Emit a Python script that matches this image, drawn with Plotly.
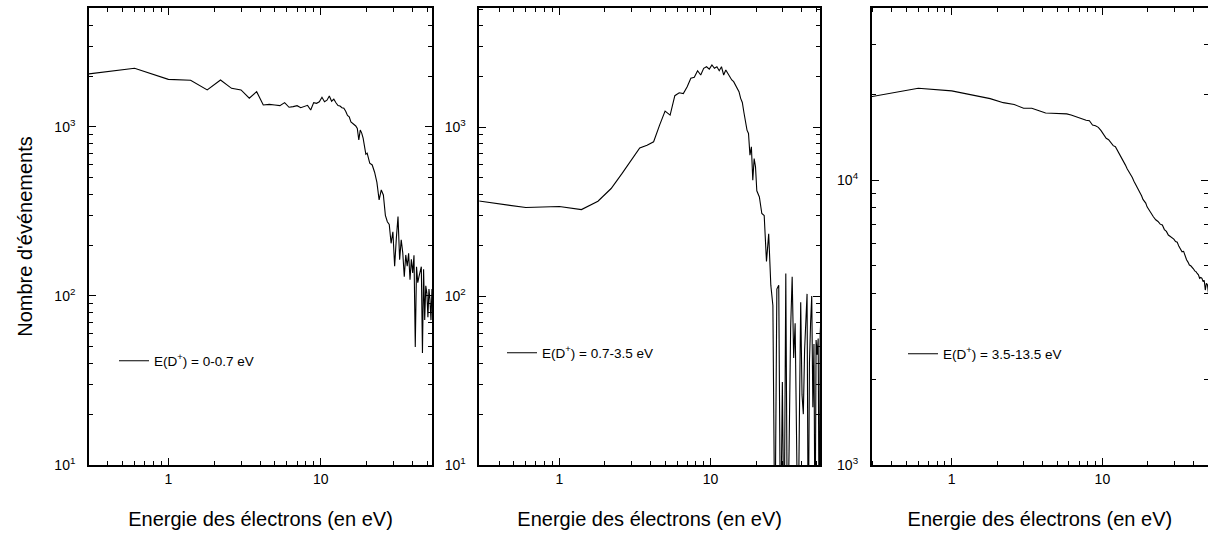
import plotly.graph_objects as go

# Electron energy (eV) - shared grid
energie = [
    0.2, 0.6, 1.0, 1.4, 1.8, 2.2, 2.6, 3.0, 3.4, 3.8,
    4.2, 4.6, 5.0, 5.4, 5.8, 6.2, 6.6, 7.0, 7.4, 7.8,
    8.2, 8.6, 9.0, 9.4, 9.8, 10.2, 10.6, 11.0, 11.4, 11.8,
    12.2, 12.6, 13.0, 13.4, 13.8, 14.2, 14.6, 15.0, 15.4, 15.8,
    16.2, 16.6, 17.0, 17.4, 17.8, 18.2, 18.6, 19.0, 19.4, 19.8,
    20.2,
    21.0, 21.8, 22.6, 23.4, 24.2, 25.0, 25.8, 26.6, 27.4, 28.2,
    29.0, 29.8, 30.6, 31.4, 32.2, 33.0, 33.8, 34.6, 35.4, 36.2,
    37.0, 37.8, 38.6, 39.4, 40.2, 41.0, 41.8, 42.6, 43.4, 44.2,
    45.0, 45.8, 46.6, 47.4, 48.2, 49.0, 49.8, 50.6, 51.4, 52.2,
    53.0, 53.8, 54.6,
]

# Counts, E(D+) = 0-0.7 eV
evts_1 = [
    1970, 2225, 1914, 1890, 1656, 1897, 1693, 1656, 1479, 1618,
    1349, 1360, 1350, 1337, 1393, 1308, 1320, 1337, 1300, 1320,
    1343, 1260, 1393, 1380, 1410, 1499, 1410, 1440, 1525, 1420,
    1460, 1390, 1340, 1330, 1300, 1290, 1240, 1170, 1150, 1070,
    1050, 1040, 1014, 980, 838, 960, 920, 860, 760, 690,
    700,
    610, 596, 540, 470, 370, 424, 396, 300, 275, 265,
    205, 240, 150, 220, 295, 164, 215, 180, 130, 175,
    150, 179, 125, 165, 137, 174, 50, 149, 120, 130,
    140, 149, 46, 144, 72, 115, 104, 75, 110, 95,
    72, 110, 90,
]

# Counts, E(D+) = 0.7-3.5 eV
evts_2 = [
    383, 334, 339, 325, 364, 433, 532, 637, 753, 782,
    819, 1028, 1244, 1178, 1534, 1597, 1580, 1733, 1944, 1970,
    2157, 2033, 2228, 2276, 2205, 2333, 2228, 2276, 2157, 2276,
    2033, 2180, 2080, 1960, 1900, 1858, 1760, 1680, 1620, 1480,
    1400, 1220, 1060, 960, 917, 682, 764, 485, 652, 582,
    420,
    386, 308, 300, 160, 234, 116, 88, 3, 110, 116,
    3, 31, 3, 136, 3, 12, 65, 130, 43, 69,
    14, 3, 18, 92, 26, 20, 48, 69, 103, 3,
    40, 70, 100, 22, 52, 3, 55, 45, 56, 3,
    60, 80, 50,
]

# Counts, E(D+) = 3.5-13.5 eV
evts_3 = [
    18900, 20990, 20550, 19800, 19300, 18680, 18400, 17860, 17860, 17500,
    17190, 17150, 17120, 17100, 17060, 16900, 16700, 16480, 16350, 16200,
    16140, 15590, 15500, 15300, 14900, 14400, 14000, 13850, 13500, 13200,
    13090, 12700, 12300, 12010, 11700, 11300, 10950, 10700, 10500, 10200,
    9900, 9650, 9490, 9300, 9000, 8800, 8550, 8420, 8300, 8050,
    7900,
    7650, 7430, 7250, 7150, 7000, 6950, 6700, 6600, 6410, 6350,
    6250, 6200, 6080, 6050, 5850, 5750, 5600, 5620, 5400, 5250,
    5150, 5030, 5000, 4950, 4880, 4800, 4770, 4700, 4650, 4520,
    4550, 4520, 4400, 4450, 4110, 4340, 4290, 4000, 4200, 4100,
    4050, 4000, 3950,
]

series_names = [
    "E(D<sup>+</sup>) = 0-0.7 eV",
    "E(D<sup>+</sup>) = 0.7-3.5 eV",
    "E(D<sup>+</sup>) = 3.5-13.5 eV",
]

x_tickvals = [1, 10]
x_ticktext = ["1", "10"]
x_minor = [0.3, 0.4, 0.5, 0.6, 0.7, 0.8, 0.9, 2, 3, 4, 5, 6, 7, 8, 9, 20, 30, 40, 50]

y_tickvals_a = [10, 100, 1000]
y_ticktext_a = ["10<sup>1</sup>", "10<sup>2</sup>", "10<sup>3</sup>"]
y_minor_a = [20, 30, 40, 50, 60, 70, 80, 90, 200, 300, 400, 500, 600, 700, 800, 900,
             2000, 3000, 4000, 5000]
y_tickvals_b = [1000, 10000]
y_ticktext_b = ["10<sup>3</sup>", "10<sup>4</sup>"]
y_minor_b = [2000, 3000, 4000, 5000, 6000, 7000, 8000, 9000, 20000, 30000, 40000]

for s in (evts_1, evts_2, evts_3):
    assert len(s) == len(energie)

W, H = 1208, 534
ML, MR, MT, MB = 89, 0, 8, 69
PW, PH = W - ML - MR, H - MT - MB

def px_x(p):
    return (p - ML) / PW

def px_y(p):
    return (H - MB - p) / PH

FONT = "Arial, Liberation Sans, Helvetica, sans-serif"

panels = [
    dict(y=evts_1, dom=[89, 432], xr=[-0.521, 1.731], yr=[1, 3.704],
         yt=(y_tickvals_a, y_ticktext_a, y_minor_a), leg=(114, 361)),
    dict(y=evts_2, dom=[479.3, 820], xr=[-0.529, 1.723], yr=[1, 3.705],
         yt=(y_tickvals_a, y_ticktext_a, y_minor_a), leg=(502, 353)),
    dict(y=evts_3, dom=[871.7, 1208], xr=[-0.531, 1.701], yr=[3, 4.6035],
         yt=(y_tickvals_b, y_ticktext_b, y_minor_b), leg=(903, 354)),
]

fig = go.Figure()
layout = dict(
    width=W, height=H,
    margin=dict(l=ML, r=MR, t=MT, b=MB),
    paper_bgcolor="white", plot_bgcolor="white",
    font=dict(family=FONT, color="black", size=14),
    showlegend=True,
)

for i, p in enumerate(panels):
    k = "" if i == 0 else str(i + 1)
    legname = "legend" if i == 0 else f"legend{i + 1}"
    fig.add_trace(go.Scatter(
        x=energie, y=p["y"], mode="lines",
        line=dict(color="black", width=1.1),
        name=series_names[i],
        xaxis="x" + k, yaxis="y" + k,
        legend=legname,
    ))
    common = dict(
        type="log", showgrid=False, zeroline=False,
        showline=True, linecolor="black", linewidth=1.6,
        mirror="allticks", ticks="inside", ticklen=7, tickwidth=1.2,
        tickcolor="black", automargin=False,
        tickfont=dict(family=FONT, size=14, color="black"),
    )
    xa = dict(common)
    xa.update(
        domain=[px_x(p["dom"][0]), px_x(p["dom"][1])],
        range=p["xr"], anchor="y" + k,
        tickmode="array", tickvals=x_tickvals, ticktext=x_ticktext,
        minor=dict(tickmode="array", tickvals=x_minor, ticks="inside",
                   ticklen=4, tickwidth=1, tickcolor="black"),
        title=dict(text="Energie des électrons (en eV)",
                   font=dict(family=FONT, size=20, color="black"), standoff=26),
    )
    ya = dict(common)
    tv, tt, tm = p["yt"]
    ya.update(
        domain=[0, 1], range=p["yr"], anchor="x" + k,
        tickmode="array", tickvals=tv, ticktext=tt,
        ticklabelstandoff=9,
        minor=dict(tickmode="array", tickvals=tm, ticks="inside",
                   ticklen=4, tickwidth=1, tickcolor="black"),
    )
    if i == 0:
        ya["title"] = dict(text="Nombre d'événements",
                           font=dict(family=FONT, size=20, color="black"), standoff=16)
    layout["xaxis" + k] = xa
    layout["yaxis" + k] = ya
    lx, ly = p["leg"]
    layout[legname] = dict(
        x=px_x(lx), y=px_y(ly), xanchor="left", yanchor="middle",
        bgcolor="rgba(0,0,0,0)", borderwidth=0,
        font=dict(family=FONT, size=13.5, color="black"),
        itemwidth=30,
    )

fig.update_layout(**layout)
fig.write_html(
    "out.html",
    config={"displayModeBar": False},
    post_script="document.body.style.margin='0';document.body.style.overflow='hidden';",
)
